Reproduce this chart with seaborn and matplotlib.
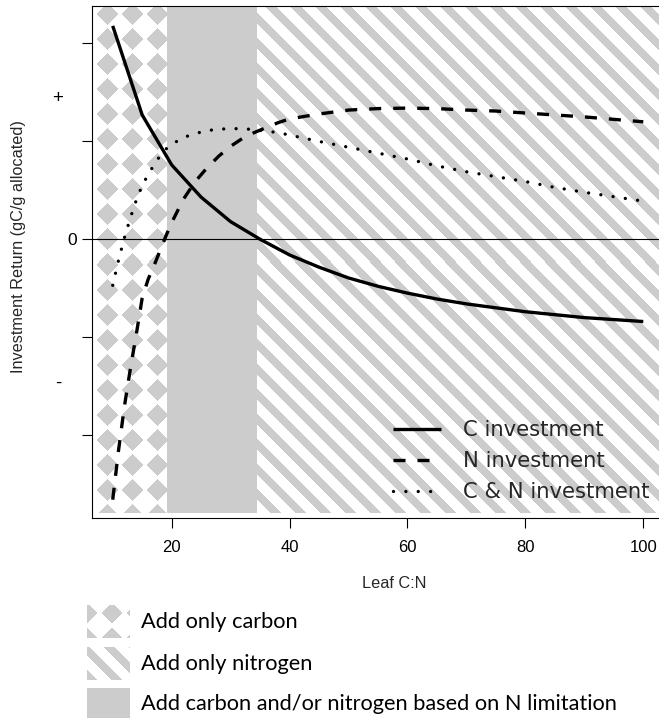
import numpy as np
import pandas as pd
import matplotlib
matplotlib.use("Agg")
import matplotlib.pyplot as plt
import seaborn as sns

# ---------------- data ----------------
x_c = [10, 15, 20, 25, 30, 35, 40, 45, 50, 55, 60, 65, 70, 75, 80, 85, 90, 95, 100]
c_invest = [2.18, 1.27, 0.76, 0.43, 0.18, 0.00, -0.16, -0.285, -0.395, -0.48, -0.55,
            -0.61, -0.66, -0.70, -0.74, -0.77, -0.80, -0.82, -0.84]

x_n = [10, 11, 12, 13, 14, 15, 16, 17, 18, 19, 20, 22, 24, 26, 28, 30, 32, 34, 36, 38,
       40, 45, 50, 55, 60, 65, 70, 75, 80, 85, 90, 95, 100]
n_invest = [-2.66, -2.15, -1.70, -1.32, -0.97, -0.60, -0.41, -0.27, -0.12, 0.03, 0.17,
            0.41, 0.59, 0.73, 0.85, 0.95, 1.03, 1.09, 1.14, 1.19, 1.23, 1.28, 1.32,
            1.335, 1.34, 1.335, 1.32, 1.31, 1.29, 1.27, 1.25, 1.225, 1.20]
cn_invest = [-0.47, -0.21, 0.02, 0.22, 0.40, 0.55, 0.66, 0.76, 0.85, 0.92, 0.97,
             1.04, 1.08, 1.11, 1.125, 1.13, 1.13, 1.12, 1.105, 1.09, 1.065, 1.00, 0.94,
             0.88, 0.82, 0.75, 0.69, 0.64, 0.59, 0.53, 0.48, 0.435, 0.39]

series_labels = ["C investment", "N investment", "C & N investment"]
x_ticks = [20, 40, 60, 80, 100]
y_ticks = [-2, -1, 0, 1, 2]
y_ticklabels = ["", "", "0", "", ""]
sign_labels = ["+", "-"]
sign_pos = [1.44, -1.47]

# zone boundaries (Leaf C:N)
carbon_only_max = 19.27
mixed_max = 34.47
zone_labels = ["Add only carbon", "Add only nitrogen",
               "Add carbon and/or nitrogen based on N limitation"]

xlim = (6.4, 103.6)
ylim = (-2.847, 2.383)
pattern_bottom = -2.796

GRAY = "#cccccc"
ARIAL = ["Liberation Sans", "DejaVu Sans"]
WIDE = ["DejaVu Sans"]

# ---------------- style ----------------
sns.set_style("ticks")
plt.rcParams["font.family"] = ARIAL

W, H = 659, 718
fig = plt.figure(figsize=(W / 100, H / 100), dpi=100)
ax_l, ax_r, ax_t, ax_b = 91.5, 664.5, 6.0, 518.0
ax = fig.add_axes([ax_l / W, (H - ax_b) / H, (ax_r - ax_l) / W, (ax_b - ax_t) / H])
ax.set_xlim(*xlim)
ax.set_ylim(*ylim)


def diamond_img(col0, row0, w, h, cx0, cy0, period=25.0, half=10.5):
    cols = col0 + np.arange(w) + 0.5
    rows = row0 + np.arange(h) + 0.5
    C, R = np.meshgrid(cols, rows)
    dx = (C - cx0 + period / 2) % period - period / 2
    dy = (R - cy0 + period / 2) % period - period / 2
    mask = (np.abs(dx) + np.abs(dy)) <= half
    img = np.ones((h, w, 3))
    img[mask] = np.array([204, 204, 204]) / 255.0
    return img


def stripe_img(col0, row0, w, h, phase=6.7, period=25.0, width=11.0):
    cols = col0 + np.arange(w) + 0.5
    rows = row0 + np.arange(h) + 0.5
    C, R = np.meshgrid(cols, rows)
    mask = ((C - R - phase) % period) < width
    img = np.ones((h, w, 3))
    img[mask] = np.array([204, 204, 204]) / 255.0
    return img


aw, ah = int(round(ax_r - ax_l)), int(round(ax_b - ax_t))
ymin_frac = (pattern_bottom - ylim[0]) / (ylim[1] - ylim[0])

# carbon-only zone: diamonds
span_c = ax.axvspan(xlim[0], carbon_only_max, ymin=ymin_frac, ymax=1,
                    facecolor="none", edgecolor="none")
im_c = ax.imshow(diamond_img(ax_l, ax_t, aw, ah, 107, 15),
                 extent=(xlim[0], xlim[1], ylim[0], ylim[1]), aspect="auto",
                 interpolation="nearest", zorder=0)
im_c.set_clip_path(span_c)

# mixed zone: solid gray
ax.axvspan(carbon_only_max, mixed_max, ymin=ymin_frac, ymax=1,
           facecolor=GRAY, edgecolor="none", zorder=0.5)

# nitrogen-only zone: stripes
span_n = ax.axvspan(mixed_max, xlim[1], ymin=ymin_frac, ymax=1,
                    facecolor="none", edgecolor="none")
im_n = ax.imshow(stripe_img(ax_l, ax_t, aw, ah),
                 extent=(xlim[0], xlim[1], ylim[0], ylim[1]), aspect="auto",
                 interpolation="nearest", zorder=0)
im_n.set_clip_path(span_n)

ax.set_xlim(*xlim)
ax.set_ylim(*ylim)

ax.axhline(0, color="black", lw=0.8, zorder=1.5)

lw = 2.4
sns.lineplot(x=x_c, y=c_invest, ax=ax, color="black", lw=lw, label=series_labels[0],
             zorder=3, solid_capstyle="butt")
sns.lineplot(x=x_n, y=n_invest, ax=ax, color="black", lw=lw, label=series_labels[1],
             linestyle=(0, (3.6, 3.6)), dash_capstyle="butt", zorder=3)
sns.lineplot(x=x_n, y=cn_invest, ax=ax, color="black", lw=lw, label=series_labels[2],
             linestyle=(0, (0.01, 3.7)), dash_capstyle="round", zorder=3)

handles, labels = ax.get_legend_handles_labels()
ax.legend(handles, labels, loc="center left",
          bbox_to_anchor=(393 / W, 1 - 461 / H), bbox_transform=fig.transFigure,
          frameon=False, handlelength=2.25, handletextpad=1.05, borderpad=0,
          borderaxespad=0, labelspacing=0.52,
          prop={"family": WIDE, "size": 15.2})

# axes decoration
ax.set_xticks(x_ticks)
ax.set_xticklabels([str(v) for v in x_ticks])
ax.set_yticks(y_ticks)
ax.set_yticklabels(y_ticklabels)
ax.tick_params(axis="both", direction="out", length=7, width=0.8, color="black",
               labelsize=12, labelcolor="black")
ax.tick_params(axis="x", pad=9)
ax.tick_params(axis="y", pad=3.5, labelsize=12.5)
for sp in ax.spines.values():
    sp.set_visible(True)
    sp.set_color("black")
    sp.set_linewidth(0.8)
    sp.set_zorder(4)

for lab, yv in zip(sign_labels, sign_pos):
    ax.text(-0.0585, yv, lab, transform=ax.get_yaxis_transform(), ha="center",
            va="center", fontsize=13.5, color="black")

ax.set_xlabel("Leaf C:N", fontsize=11.7, va="center")
ax.xaxis.set_label_coords((394 - ax_l) / (ax_r - ax_l), (ax_b - 583) / (ax_b - ax_t))
ax.set_ylabel("Investment Return (gC/g allocated)", fontsize=11.7, va="center")
ax.yaxis.set_label_coords((19 - ax_l) / (ax_r - ax_l), (ax_b - 247) / (ax_b - ax_t))

# ---------------- zone legend ----------------
lax = fig.add_axes([0, 0, 1, (H - 585) / H])
lax.set_xlim(0, W)
lax.set_ylim(H, 585)
lax.axis("off")

sw_l, sw_w, sw_h = 87, 43, 33
sw_tops = [605, 647, 688]
swatches = [
    diamond_img(sw_l, sw_tops[0], sw_w, sw_h, 87, 612.7),
    stripe_img(sw_l, sw_tops[1], sw_w, sw_h),
    None,
]
for top, img, lab in zip(sw_tops, swatches, zone_labels):
    if img is None:
        img = np.ones((sw_h, sw_w, 3)) * 204 / 255.0
    lax.imshow(img, extent=(sw_l, sw_l + sw_w, top + sw_h, top), origin="upper",
               aspect="auto", interpolation="nearest")
    lax.text(141, top + sw_h / 2, lab, ha="left", va="center", fontsize=15.7,
             family=["Lato", "DejaVu Sans"], color="black")
lax.set_xlim(0, W)
lax.set_ylim(H, 585)

fig.savefig("out.png", dpi=100)
